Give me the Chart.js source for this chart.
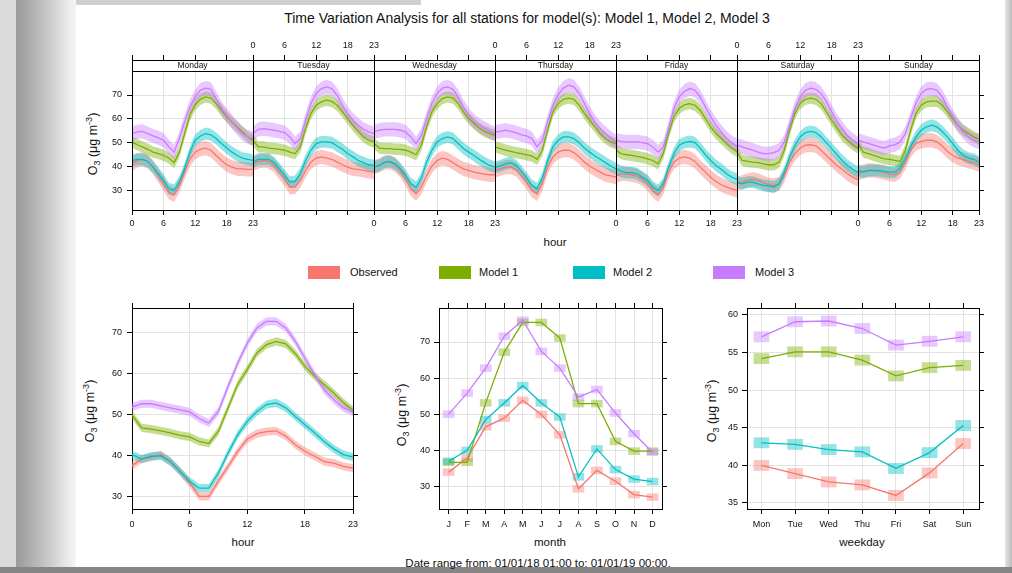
<!DOCTYPE html>
<html><head><meta charset="utf-8">
<script src="https://cdn.jsdelivr.net/npm/chart.js@4.4.1/dist/chart.umd.min.js"></script>
<style>
html,body{margin:0;padding:0;width:1012px;height:573px;overflow:hidden;background:#fff;font-family:"Liberation Sans",Arial,sans-serif;}
#frameL{position:absolute;left:0;top:0;width:76px;height:573px;background:linear-gradient(to right,#dadada 0,#dadada 16px,#9a9a9a 16px,#a6a6a6 25px,#bcbcbc 40px,#d4d4d4 55px,#e9e9e9 67px,#f5f5f5 76px);}
#frameT{position:absolute;left:76px;top:0;width:345px;height:5px;background:#cfcfcf;}
#frameB{position:absolute;left:0;top:567px;width:1012px;height:6px;background:#858585;}
#frameR{position:absolute;left:1005px;top:0;width:7px;height:573px;background:linear-gradient(to right,#e4e4e4,#bdbdbd);}
canvas{position:absolute;}
.t{position:absolute;white-space:nowrap;color:#111;transform:translate(-50%,-50%);line-height:1;}
.yt{position:absolute;white-space:nowrap;color:#111;transform:translate(-50%,-50%) rotate(-90deg);font-size:12.5px;line-height:1;}
.yt sub,.yt sup{font-size:72%;line-height:0;}
.sw{position:absolute;width:32px;height:13px;top:266px;}
.lt{position:absolute;top:272px;font-size:11px;color:#111;transform:translateY(-50%);white-space:nowrap;line-height:1;}
</style></head>
<body>
<div id="frameL"></div><div id="frameT"></div><div id="frameR"></div><div id="frameB"></div>

<div class="t" style="left:527px;top:18px;font-size:14px;">Time Variation Analysis for all stations for model(s): Model 1, Model 2, Model 3</div>
<div class="yt" style="left:93px;top:144px;">O<sub>3</sub> (μg m<sup>-3</sup>)</div>
<div class="t" style="left:555px;top:243px;font-size:11.5px;">hour</div>

<div class="sw" style="left:308px;background:#F8766D;"></div><div class="lt" style="left:350px;">Observed</div>
<div class="sw" style="left:439px;background:#7CAE00;"></div><div class="lt" style="left:479px;">Model 1</div>
<div class="sw" style="left:573px;background:#00BFC4;"></div><div class="lt" style="left:613px;">Model 2</div>
<div class="sw" style="left:713px;background:#C77CFF;"></div><div class="lt" style="left:755px;">Model 3</div>

<div class="yt" style="left:90px;top:411px;">O<sub>3</sub> (μg m<sup>-3</sup>)</div>
<div class="t" style="left:243px;top:543px;font-size:11.5px;">hour</div>
<div class="yt" style="left:402px;top:415px;">O<sub>3</sub> (μg m<sup>-3</sup>)</div>
<div class="t" style="left:550px;top:543px;font-size:11.5px;">month</div>
<div class="yt" style="left:712px;top:411px;">O<sub>3</sub> (μg m<sup>-3</sup>)</div>
<div class="t" style="left:862px;top:543px;font-size:11.5px;">weekday</div>
<div class="t" style="left:538px;top:564px;font-size:11.5px;">Date range from: 01/01/18 01:00 to: 01/01/19 00:00.</div>

<canvas id="cWeek" width="930" height="205" style="left:70px;top:35px;"></canvas>
<canvas id="cHour" width="300" height="275" style="left:70px;top:285px;"></canvas>
<canvas id="cMonth" width="300" height="275" style="left:380px;top:285px;"></canvas>
<canvas id="cWday" width="310" height="275" style="left:690px;top:285px;"></canvas>

<script>
// ---------------- data ----------------
const dayNames = ['Monday','Tuesday','Wednesday','Thursday','Friday','Saturday','Sunday'];
const hourTicks = [0,6,12,18,23];
const monthLabels = ['J','F','M','A','M','J','J','A','S','O','N','D'];
const weekdayLabels = ['Mon','Tue','Wed','Thu','Fri','Sat','Sun'];
const seriesNames = ['Observed','Model 1','Model 2','Model 3'];
const weekYTicks = [30,40,50,60,70];
const hourYTicks = [30,40,50,60,70];
const monthYTicks = [30,40,50,60,70];
const weekdayYTicks = [35,40,45,50,55,60];

// hour of week (one row per day, hours 0..23)
const obsWeek = [
 [41.1,42.5,43,42.1,39.7,36.2,32.7,29.2,28.1,32,37.6,43,46,47.2,47.7,46.8,44.6,42.5,40.7,39.7,39,39,38.8,38.8],
 [41.1,42.1,42.5,42.1,40.4,37.6,34.8,31.3,31.3,34.1,38.3,41.8,43.5,44,43.5,43,41.8,40.7,39.7,39,38.8,38.3,37.9,37.6],
 [39.7,40.4,41.6,41.8,40.7,38.3,34.8,30.6,28.5,31.3,36.2,40.2,42.5,43.5,43,41.6,40.2,39,38.3,37.6,37.2,36.8,36.5,36.5],
 [38.3,39,39.7,39.7,38.8,36.2,33.4,29.9,28.5,32.7,39.7,44,46,46.8,46.8,45.8,44,41.8,40.2,38.8,37.6,36.5,36,35.5],
 [36,36.9,36.9,36.5,36,34.8,32.7,29.9,28.1,31.3,37.6,41.8,43.5,44,43.5,42.1,39.7,37.6,35.5,33.7,32.3,31.3,30.6,29.9],
 [32.7,33.4,34.1,34.6,34.1,33.2,32.3,32,32.7,36.2,41.6,45.4,47.7,48.9,49.1,48.6,46.8,44.6,42.5,40.4,38.8,36.9,35.5,34.6],
 [36.9,37.9,38.3,38.3,37.9,37.4,36.9,36.5,37.9,41.8,46.8,49.6,50.5,51,51,50.3,48.6,46.3,44.6,43.5,43,42.1,41.6,40.7]
];
const model1Week = [
 [50.3,49.1,48.2,47.2,46,45.4,44.7,43.5,41.6,46,53.8,61.5,65.9,68.2,69.2,68.7,66.4,63.6,60.8,58.7,56.6,54.5,52.4,51],
 [51,48.2,48.2,47.7,47.5,47.2,46.8,46,45.4,48.2,55.9,62.2,65.7,67.1,67.8,67.3,65.7,62.9,60.1,57.3,54.7,52.4,51,50.3],
 [49.6,47.7,47.5,47.5,47.2,47.2,46.8,46,44.9,48.9,56.6,62.9,66.4,68.5,69.2,68.7,66.4,62.9,60.1,58,56.1,54.7,53.8,53],
 [48.2,47.5,46.8,46.3,45.8,45.4,44.9,44.4,43,46.8,55.2,62.9,66.4,68.2,68.7,68.2,65.7,62.2,59.4,56.6,53.8,51.7,50.4,49.6],
 [46.8,45.4,44.9,44.6,44.2,43.8,43.2,42.5,41.1,45.4,53.8,60.8,64.3,65.9,66.4,65.7,63.6,60.1,56.6,53.8,51.7,49.6,47.7,46.3],
 [46,42.5,42.1,41.8,41.6,41.1,40.7,40.7,41.8,46.8,55.2,62.2,66.4,68.2,68.7,68.2,66.4,62.9,59.4,56.1,53,51,49.1,47.7],
 [49.6,46,45.4,44.6,43.9,43.2,43,42.5,42.1,46.8,55.2,62.2,65.7,67.1,67.4,67.4,65.7,62.9,60.1,57.3,55.2,53.8,52.4,51.4]
];
const model2Week = [
 [42.5,43,43,42.1,39.7,37,34.1,30.6,30,33.4,39,46,51,52.8,53.8,53.3,51.7,49.6,47.7,46,44.6,43.5,43,42.5],
 [41.8,43,43,43,41.6,39,36.2,33.4,33.7,37,42.5,46.8,49.6,50.3,50.3,50,48.6,47.2,45.4,44,42.5,41.6,40.7,40.4],
 [39.7,40.4,41.8,42.1,41.1,39,36.2,32.7,31.3,35.1,41.8,46.8,50.3,51.7,52.4,51.7,49.6,47.5,46,44.6,43,41.6,40.4,39.7],
 [39.7,40.2,41.1,41.6,40.4,37.9,35.1,32,30.6,35.1,42.5,48.2,51,52.4,52.4,51.7,50,47.7,46,44.4,43,41.6,40.2,39],
 [39,37.9,37.4,37.4,36.9,35.5,34.1,31.3,29.9,32.7,39.7,45.4,48.9,50,50.5,50,47.7,44.9,42.5,40.4,38.8,36.9,35.5,34.6],
 [33.4,32.7,33.4,33.4,32.7,32,31.8,31.3,32.7,37.6,44,48.9,52.4,54.2,54.7,54.2,52.4,50,47.5,44.9,42.5,40.4,38.8,37.6],
 [38.3,37.6,38.3,38.3,38.3,37.9,37.6,37.6,39.3,43.2,48.2,52.4,55.2,56.6,57.3,56.6,54.7,52.4,49.6,46.8,44.6,43.5,43,41.8]
];
const model3Week = [
 [53.8,54.5,54.7,53.8,52.8,52,51,48.2,46,51.7,58.7,65,69.2,72,72.9,72.4,68.5,64.3,61.5,58.7,56.1,53.8,52.4,51.7],
 [53.8,55.6,55.9,55.6,55.2,54.7,54.2,52.4,49.6,51.7,59.4,66.4,70.6,72.7,73.4,72.7,69.9,65.7,62.2,59.4,57.3,55.6,54.5,53.8],
 [54.5,55.2,55.6,55.6,55.6,55.2,54.5,52.4,49.6,53,60.1,66.4,70.6,72.9,73.4,72.4,69.2,65,61.5,58.9,57.3,55.9,54.7,53.8],
 [54.5,54.7,55.2,54.7,54.2,53.3,52.8,51.7,48.2,51,58.7,65.7,70.1,72.9,74.1,73.4,70.6,66.4,62.2,58.7,55.9,53.8,51.9,50.3],
 [51,50.5,50.3,50.3,50.3,50,49.6,48.2,46,48.2,55.9,64.3,69.2,71.5,72.7,72,69.2,65,60.8,57.3,54.5,51.9,50,48.6],
 [48.9,48.2,47.5,46.8,46,45.4,45.4,45.8,46.8,50.3,57.3,64.3,69.2,72,72.9,72.4,70.6,67.1,62.9,58.9,55.9,53,51,49.6],
 [51,50.3,49.6,48.9,48.2,47.7,48.6,49.1,50.3,53.8,60.1,66.4,70.6,72.4,72.7,72,69.2,65,60.8,57.3,54.5,52.4,51,50.3]
];
const weekBandHalf = [3.0, 2.4, 2.5, 3.0];

// hour of day
const obsHour    = [37.5,39.1,39.6,40.2,38.5,36.1,33.3,30,30,33.8,37.3,41,44,45.3,45.8,46,44.7,42.6,41,39.8,38.5,38.1,37.3,36.9];
const model1Hour = [49.9,46.7,46.4,46,45.5,44.9,44.5,43.4,42.9,45.9,51.6,57.3,61,65,67,67.8,67.2,64.8,61.7,59.3,57.3,55.2,52.9,51];
const model2Hour = [40.2,39.1,39.8,39.9,38.5,36.1,33.7,32,32,35.7,40.6,45,48.3,50.7,52.4,52.8,51.6,49.5,47.5,45.5,43.4,41.6,40.2,39.6];
const model3Hour = [51.8,52.6,52.6,52.1,51.6,51.1,50.6,49,47.9,50.8,56.8,62.5,67.4,71.1,72.7,72.7,71.1,67.8,63.7,59.7,56,53.6,51.6,50.6];
const hourBandHalf = [1.0, 1.0, 1.0, 1.0];

// month
const obsMonth    = [34.1,38,46.6,49,53.9,50,44.4,29.5,34.6,31.6,27.9,27.2];
const model1Month = [36.8,36.8,53.2,67.2,75.4,75.4,71.1,53,53,42.6,39.9,39.9];
const model2Month = [37.1,40.1,48.6,53.2,58,53.2,49.3,32.8,40.5,34.8,32.2,31.5];
const model3Month = [50.1,55.9,62.8,71.6,76,67.4,62.8,54.8,56.9,50.4,44.7,39.6];
const monthBandHalf = [0.95, 0.95, 0.95, 0.95];

// weekday
const obsWeekday    = [40,38.9,37.8,37.4,36,39,42.9];
const model1Weekday = [54.2,55.1,55.1,54,51.9,53,53.3];
const model2Weekday = [43,42.8,42.1,41.8,39.6,41.7,45.3];
const model3Weekday = [57.1,59.1,59.2,58.2,56,56.5,57.1];
const weekdayBandHalf = [0.68, 0.68, 0.68, 0.68];

// ---------------- style ----------------
const COLORS = ['#F8766D','#7CAE00','#00BFC4','#C77CFF'];
const GRID = '#e3e3e3';
const FONT = '"Liberation Sans", Arial, sans-serif';
function rgba(hex,a){const n=parseInt(hex.slice(1),16);return `rgba(${n>>16&255},${n>>8&255},${n&255},${a})`;}

function lineSets(list, halfs, mk){
  const sets=[];
  list.forEach((s,i)=>{
    sets.push({type:'line',label:seriesNames[i]+' lo',data:mk(s,-halfs[i]),borderWidth:0,borderColor:'rgba(0,0,0,0)',pointRadius:0,fill:false,order:10-i,spanGaps:false});
    sets.push({type:'line',label:seriesNames[i]+' hi',data:mk(s,halfs[i]),borderWidth:0,borderColor:'rgba(0,0,0,0)',pointRadius:0,fill:'-1',backgroundColor:rgba(COLORS[i],0.42),order:10-i,spanGaps:false});
  });
  list.forEach((s,i)=>{
    sets.push({type:'line',label:seriesNames[i],data:mk(s,0),borderColor:COLORS[i],borderWidth:1.3,pointRadius:0,fill:false,order:5-i,spanGaps:false,tension:0});
  });
  return sets;
}
function barSets(list, halfs, thick){
  const sets=[];
  list.forEach((s,i)=>{
    sets.push({type:'bar',label:seriesNames[i]+' ci',data:s.map((v,k)=>({x:k,y:[v-halfs[i],v+halfs[i]]})),backgroundColor:rgba(COLORS[i],0.42),borderWidth:0,barThickness:thick,grouped:false,order:10-i});
  });
  list.forEach((s,i)=>{
    sets.push({type:'line',label:seriesNames[i],data:s.map((v,k)=>({x:k,y:v})),borderColor:COLORS[i],borderWidth:1.3,pointRadius:0,fill:false,order:5-i,tension:0});
  });
  return sets;
}

function mkScales(o){
  const tf={family:FONT,size:9};
  const setT = vals => s => { s.ticks = vals.map(v=>({value:v})); };
  const bd = {display:true,color:'#000',width:1};
  return {
    x:{type:'linear',position:'bottom',min:o.xmin,max:o.xmax,offset:false,afterBuildTicks:setT(o.xTicks),afterFit:s=>{s.height=o.hB;},
       ticks:{callback:o.labB,font:tf,color:'#111',padding:o.xPadB,maxRotation:0,autoSkip:false},
       grid:{color:o.xGrid||GRID,tickColor:'#000',tickLength:5,offset:false},border:bd},
    x2:{type:'linear',position:'top',min:o.xmin,max:o.xmax,offset:false,afterBuildTicks:setT(o.xTicks),afterFit:s=>{s.height=o.hT;},
       ticks:{callback:o.labT||(()=>''),font:tf,color:'#111',padding:o.xPadT||3,maxRotation:0,autoSkip:false},
       grid:{drawOnChartArea:false,tickColor:'#000',tickLength:5,offset:false},border:bd},
    y:{type:'linear',position:'left',min:o.ymin,max:o.ymax,afterBuildTicks:setT(o.yTicks),afterFit:s=>{s.width=o.wL;},
       ticks:{callback:v=>String(v),font:tf,color:'#111',padding:o.yPad},
       grid:{color:GRID,tickColor:'#000',tickLength:5},border:bd},
    y2:{type:'linear',position:'right',min:o.ymin,max:o.ymax,afterBuildTicks:setT(o.yTicks),afterFit:s=>{s.width=o.wR;},
       ticks:{callback:()=>'',font:tf},
       grid:{drawOnChartArea:false,tickColor:'#000',tickLength:5},border:bd}
  };
}
function baseOpts(scales){
  return {responsive:false,animation:false,events:[],layout:{padding:0},
    plugins:{legend:{display:false},tooltip:{enabled:false}},scales};
}

// ---------------- top: hour of week ----------------
const weekTickVals = [];
dayNames.forEach((d,i)=>hourTicks.forEach(h=>{const v=i*23+h; if(!weekTickVals.includes(v)) weekTickVals.push(v);}));
function weekLabel(v, parity){
  for(let d=0; d<dayNames.length; d++){
    if(d%2===parity && v>=d*23 && v<=d*23+23) return String(v-d*23);
  }
  return '';
}
function weekPts(week, off){
  const pts=[];
  week.forEach((day,d)=>{
    if(d>0) pts.push({x:d*23,y:null});
    day.forEach((v,h)=>pts.push({x:d*23+h,y:v+off}));
  });
  return pts;
}
const stripPlugin = {
  id:'strip',
  afterDraw(chart){
    const {ctx, chartArea:a, scales:{x}} = chart;
    const sh = 11;
    ctx.save();
    ctx.fillStyle='#fff';
    ctx.fillRect(a.left, a.top, a.right-a.left, sh);
    ctx.strokeStyle='#000'; ctx.lineWidth=1;
    ctx.beginPath();
    ctx.moveTo(a.left, a.top+0.5); ctx.lineTo(a.right, a.top+0.5);
    ctx.moveTo(a.left, a.top+sh+0.5); ctx.lineTo(a.right, a.top+sh+0.5);
    for(let d=0; d<=dayNames.length; d++){
      const px = Math.round(x.getPixelForValue(d*23))+0.5;
      ctx.moveTo(px, a.top); ctx.lineTo(px, a.bottom);
    }
    ctx.stroke();
    ctx.fillStyle='#111'; ctx.font='8.5px '+FONT; ctx.textAlign='center'; ctx.textBaseline='middle';
    dayNames.forEach((n,d)=>{
      const c=(x.getPixelForValue(d*23)+x.getPixelForValue(d*23+23))/2;
      ctx.fillText(n, c, a.top+sh/2+0.5);
    });
    ctx.restore();
  }
};
new Chart(document.getElementById('cWeek'), {
  type:'line',
  data:{datasets: lineSets([obsWeek,model1Week,model2Week,model3Week], weekBandHalf, weekPts)},
  options: baseOpts(mkScales({xmin:0,xmax:161,xTicks:weekTickVals,labB:v=>weekLabel(v,0),labT:v=>weekLabel(v,1),
     xGrid:c=>(c.tick && c.tick.value%23===0)?'rgba(0,0,0,0)':GRID,
     ymin:21.7,ymax:84.7,yTicks:weekYTicks,wL:62,wR:21,hT:25,hB:30,xPadB:3,xPadT:4,yPad:5})),
  plugins:[stripPlugin]
});

// ---------------- bottom left: hour ----------------
const hourPts = (s,off)=>s.map((v,h)=>({x:h,y:v+off}));
new Chart(document.getElementById('cHour'), {
  type:'line',
  data:{datasets: lineSets([obsHour,model1Hour,model2Hour,model3Hour], hourBandHalf, hourPts)},
  options: baseOpts(mkScales({xmin:0,xmax:23,xTicks:hourTicks,labB:v=>String(v),
     ymin:26.93,ymax:75.95,yTicks:hourYTicks,wL:62,wR:17,hT:23,hB:51,xPadB:5,yPad:5}))
});

// ---------------- bottom middle: month ----------------
new Chart(document.getElementById('cMonth'), {
  type:'line',
  data:{datasets: barSets([obsMonth,model1Month,model2Month,model3Month], monthBandHalf, 11)},
  options: baseOpts(mkScales({xmin:-0.52,xmax:11.51,xTicks:monthLabels.map((m,i)=>i),labB:v=>monthLabels[v]||'',
     ymin:23.93,ymax:79.38,yTicks:monthYTicks,wL:59,wR:18,hT:23,hB:51,xPadB:5,yPad:4}))
});

// ---------------- bottom right: weekday ----------------
new Chart(document.getElementById('cWday'), {
  type:'line',
  data:{datasets: barSets([obsWeekday,model1Weekday,model2Weekday,model3Weekday], weekdayBandHalf, 15)},
  options: baseOpts(mkScales({xmin:-0.43,xmax:6.47,xTicks:weekdayLabels.map((m,i)=>i),labB:v=>weekdayLabels[v]||'',
     ymin:34.2,ymax:60.93,yTicks:weekdayYTicks,wL:57,wR:21,hT:23,hB:51,xPadB:5,yPad:4}))
});
</script>
</body></html>
